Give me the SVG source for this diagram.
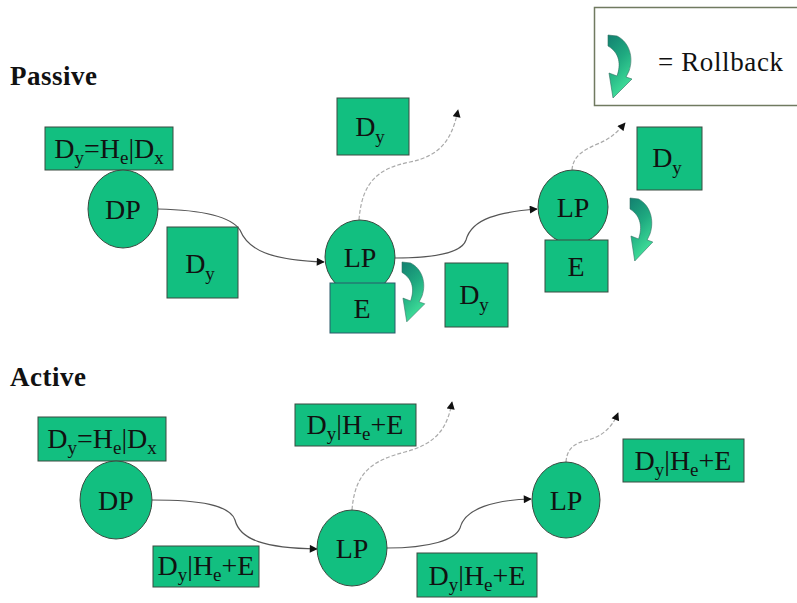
<svg xmlns="http://www.w3.org/2000/svg" width="797" height="603" viewBox="0 0 797 603">
<style>
.nd{fill:#12BF80;stroke:#3a4a40;stroke-width:1}
.t{font-family:"Liberation Serif","Times New Roman",serif;font-size:28px;fill:#111;text-anchor:middle}
.s{font-size:19px}
.h{font-family:"Liberation Serif","Times New Roman",serif;font-size:27px;font-weight:bold;fill:#111}
.c{fill:none;stroke:#555;stroke-width:1.2;marker-end:url(#ah)}
.d{fill:none;stroke:#aaa;stroke-width:1.2;stroke-dasharray:4 2;marker-end:url(#ah)}
.rb{fill:url(#rg);stroke:#2f6f60;stroke-width:0.6}
</style>
<defs>
<marker id="ah" viewBox="0 0 10 10" refX="9" refY="5" markerWidth="9" markerHeight="8" markerUnits="userSpaceOnUse" orient="auto">
<path d="M0,0 L10,5 L0,10 Z" fill="#111"/>
</marker>
<linearGradient id="rg" x1="0" y1="0" x2="0.4" y2="1">
<stop offset="0" stop-color="#138070"/>
<stop offset="0.5" stop-color="#1faa80"/>
<stop offset="1" stop-color="#40e09a"/>
</linearGradient>
<path id="rbs" d="M0,0 L9,1 C21,7 26,22 21,36 L18,42 L24,44 L5,63 L1,38 L9,41 C13,30 12,18 0,11 Z"/>
</defs>
<rect width="797" height="603" fill="#fff"/>

<g id="legend">
<rect x="594.5" y="7.5" width="205" height="98" fill="#fff" stroke="#707a60" stroke-width="1.5"/>
<use href="#rbs" class="rb" transform="translate(608,35)"/>
<text x="658" y="71" class="t" style="text-anchor:start;font-size:27px" textLength="125">= Rollback</text>
</g>

<text x="10" y="85" class="h" textLength="87">Passive</text>
<text x="10" y="386" class="h" textLength="76">Active</text>

<g id="connectors">
<path class="c" d="M158,209 C205,210 232,218 240,230 C248,250 270,260 324,262"/>
<path class="c" d="M395,258 C440,258 462,252 466,240 C472,218 500,212 537,209"/>
<path class="d" d="M359,220 C362,180 380,168 410,162 C440,156 452,140 458,110"/>
<path class="d" d="M572,170 C573,155 585,150 595,145 C608,140 615,135 625,123"/>
<path class="c" d="M152,500 C200,500 230,505 235,520 C240,540 265,548 317,549"/>
<path class="c" d="M387,548 C430,548 455,540 460,528 C465,508 495,500 531,499"/>
<path class="d" d="M352,510 C355,470 375,460 405,452 C435,444 447,430 452,402"/>
<path class="d" d="M566,462 C567,448 575,443 588,440 C602,436 612,428 618,413"/>
</g>

<g id="p-dyhe">
<rect class="nd" x="45" y="127" width="128" height="43"/>
<text x="109" y="158" class="t">D<tspan class="s" dy="6">y</tspan><tspan dy="-6">=H</tspan><tspan class="s" dy="6">e</tspan><tspan dy="-6">|D</tspan><tspan class="s" dy="6">x</tspan></text>
</g>
<g id="p-dp">
<ellipse class="nd" cx="123" cy="209" rx="35" ry="39"/>
<text x="123" y="219" class="t">DP</text>
</g>
<g id="p-dy1">
<rect class="nd" x="167" y="227" width="71" height="71"/>
<text x="200" y="273" class="t">D<tspan class="s" dy="7">y</tspan></text>
</g>
<g id="p-lp1">
<ellipse class="nd" cx="360" cy="257" rx="35" ry="37"/>
<text x="360" y="267" class="t">LP</text>
</g>
<g id="p-e1">
<rect class="nd" x="330" y="283" width="65" height="50" style="stroke:#2a5a6a"/>
<text x="362" y="318" class="t">E</text>
</g>
<g id="p-dy2">
<rect class="nd" x="337" y="98" width="72" height="57"/>
<text x="370" y="136" class="t">D<tspan class="s" dy="7">y</tspan></text>
</g>
<g id="p-rb1">
<use href="#rbs" class="rb" transform="translate(402,262) scale(0.95)"/>
</g>
<g id="p-dy3">
<rect class="nd" x="445" y="263" width="63" height="64"/>
<text x="474" y="304" class="t">D<tspan class="s" dy="7">y</tspan></text>
</g>
<g id="p-lp2">
<ellipse class="nd" cx="573" cy="207" rx="35" ry="37"/>
<text x="573" y="217" class="t">LP</text>
</g>
<g id="p-e2">
<rect class="nd" x="545" y="240" width="63" height="52"/>
<text x="576" y="276" class="t">E</text>
</g>
<g id="p-dy4">
<rect class="nd" x="637" y="127" width="65" height="63"/>
<text x="667" y="167" class="t">D<tspan class="s" dy="7">y</tspan></text>
</g>
<g id="p-rb2">
<use href="#rbs" class="rb" transform="translate(630,198) scale(0.95,1)"/>
</g>

<g id="a-dyhe">
<rect class="nd" x="38" y="417" width="128" height="44"/>
<text x="102" y="448" class="t">D<tspan class="s" dy="6">y</tspan><tspan dy="-6">=H</tspan><tspan class="s" dy="6">e</tspan><tspan dy="-6">|D</tspan><tspan class="s" dy="6">x</tspan></text>
</g>
<g id="a-dp">
<ellipse class="nd" cx="116" cy="500" rx="36" ry="39"/>
<text x="116" y="510" class="t">DP</text>
</g>
<g id="a-lbl1">
<rect class="nd" x="153" y="546" width="106" height="41"/>
<text x="206" y="575" class="t">D<tspan class="s" dy="6">y</tspan><tspan dy="-6">|H</tspan><tspan class="s" dy="6">e</tspan><tspan dy="-6">+E</tspan></text>
</g>
<g id="a-lbl2">
<rect class="nd" x="295" y="404" width="121" height="42"/>
<text x="355" y="434" class="t">D<tspan class="s" dy="6">y</tspan><tspan dy="-6">|H</tspan><tspan class="s" dy="6">e</tspan><tspan dy="-6">+E</tspan></text>
</g>
<g id="a-lp1">
<ellipse class="nd" cx="352" cy="548" rx="35" ry="38"/>
<text x="352" y="558" class="t">LP</text>
</g>
<g id="a-lbl3">
<rect class="nd" x="417" y="553" width="120" height="44"/>
<text x="477" y="585" class="t">D<tspan class="s" dy="6">y</tspan><tspan dy="-6">|H</tspan><tspan class="s" dy="6">e</tspan><tspan dy="-6">+E</tspan></text>
</g>
<g id="a-lp2">
<ellipse class="nd" cx="566" cy="500" rx="34" ry="38"/>
<text x="566" y="510" class="t">LP</text>
</g>
<g id="a-lbl4">
<rect class="nd" x="623" y="439" width="121" height="43"/>
<text x="683" y="470" class="t">D<tspan class="s" dy="6">y</tspan><tspan dy="-6">|H</tspan><tspan class="s" dy="6">e</tspan><tspan dy="-6">+E</tspan></text>
</g>
</svg>
